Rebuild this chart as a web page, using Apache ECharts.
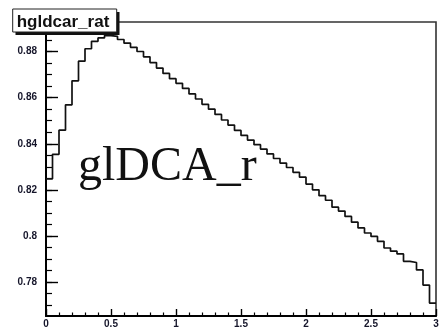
<!DOCTYPE html>
<html>
<head>
<meta charset="utf-8">
<script src="https://cdn.jsdelivr.net/npm/echarts@6/dist/echarts.min.js"></script>
<style>
  html, body { margin: 0; padding: 0; background: #fff; }
  #chart { width: 442px; height: 329px; }
</style>
</head>
<body>
<div id="chart"></div>
<script>
// Histogram binning: 60 bins of width 0.05 over [0, 3]
const xMin = 0;
const xMax = 3;
const binWidth = 0.05;

// Bin contents of hgldcar_rat
const binValues = [
  0.8248, 0.8354, 0.8459, 0.8569, 0.8673, 0.8758, 0.8812, 0.8844, 0.8859, 0.8869,
  0.8866, 0.8852, 0.8836, 0.8818, 0.8800, 0.8777, 0.8752, 0.8728, 0.8705, 0.8682,
  0.8662, 0.8640, 0.8616, 0.8594, 0.8571, 0.8550, 0.8527, 0.8503, 0.8481, 0.8458,
  0.8436, 0.8416, 0.8396, 0.8377, 0.8356, 0.8336, 0.8316, 0.8297, 0.8276, 0.8255,
  0.8225, 0.8200, 0.8175, 0.8155, 0.8125, 0.8108, 0.8085, 0.8060, 0.8035, 0.8013,
  0.7998, 0.7977, 0.7948, 0.7934, 0.7922, 0.7890, 0.7885, 0.7853, 0.7787, 0.7709
];

// Axis ranges and tick values
const yMin = 0.7653;
const yMax = 0.8928;
const yMajorTicks = [0.78, 0.80, 0.82, 0.84, 0.86, 0.88];
const yMinorTicks = [0.765, 0.77, 0.775, 0.78, 0.785, 0.79, 0.795, 0.80, 0.805, 0.81, 0.815,
  0.82, 0.825, 0.83, 0.835, 0.84, 0.845, 0.85, 0.855, 0.86, 0.865, 0.87, 0.875,
  0.88, 0.885, 0.89];
const xTickStep = 0.5;

const histTitle = 'hgldcar_rat';
const padText = 'glDCA_r';

// Step outline: each bin contributes its low and high edge at its content
const outline = [];
binValues.forEach((v, i) => {
  const lo = +(xMin + i * binWidth).toFixed(4);
  const hi = +(xMin + (i + 1) * binWidth).toFixed(4);
  outline.push([lo, v], [hi, v]);
});

const labelStyle = {
  color: '#15152a',
  fontFamily: 'Liberation Sans, Arial, sans-serif',
  fontWeight: 'bold',
  fontSize: 10
};

const chart = echarts.init(document.getElementById('chart'), null, { renderer: 'canvas' });
chart.setOption({
  animation: false,
  backgroundColor: '#fff',
  grid: {
    left: 46, right: 6, top: 22, bottom: 11,
    show: true, borderColor: '#333', borderWidth: 1.6, backgroundColor: 'transparent'
  },
  xAxis: {
    type: 'value',
    min: xMin, max: xMax, interval: xTickStep,
    axisLine: { show: true, onZero: false, lineStyle: { color: '#000', width: 2 } },
    axisTick: { show: true, inside: true, length: 7, lineStyle: { color: '#000', width: 1.4 } },
    minorTick: { show: true, splitNumber: 5, length: 3.5, lineStyle: { color: '#000', width: 1.2 } },
    axisLabel: Object.assign({ margin: 3, showMaxLabel: true, showMinLabel: true, hideOverlap: false }, labelStyle),
    splitLine: { show: false }
  },
  yAxis: [
    {
      type: 'value',
      min: yMin, max: yMax,
      axisLine: { show: true, onZero: false, lineStyle: { color: '#000', width: 2 } },
      axisTick: { show: true, inside: true, length: 12, customValues: yMajorTicks, lineStyle: { color: '#000', width: 1.4 } },
      axisLabel: Object.assign({ margin: 9, customValues: yMajorTicks,
        formatter: v => String(+v.toFixed(2)) }, labelStyle),
      splitLine: { show: false }
    },
    {
      type: 'value',
      position: 'left',
      min: yMin, max: yMax,
      axisLine: { show: false },
      axisTick: { show: true, inside: true, length: 6, customValues: yMinorTicks, lineStyle: { color: '#000', width: 1.2 } },
      axisLabel: { show: false },
      splitLine: { show: false }
    }
  ],
  series: [{
    type: 'line',
    data: outline,
    yAxisIndex: 0,
    showSymbol: false,
    symbol: 'none',
    clip: true,
    lineStyle: { color: '#111', width: 1.7 },
    z: 3
  }],
  graphic: [
    // title pave with drop shadow
    { type: 'rect', shape: { x: 15.5, y: 12, width: 104, height: 23 }, style: { fill: '#111' }, z: 100 },
    { type: 'rect', shape: { x: 12.7, y: 9, width: 104, height: 23 }, style: { fill: '#fff', stroke: '#222', lineWidth: 1 }, z: 101 },
    {
      type: 'text', x: 63, y: 22, z: 102,
      style: {
        text: histTitle, fill: '#111', align: 'center', verticalAlign: 'middle',
        font: 'bold 17px "Liberation Sans", Arial, sans-serif'
      }
    },
    {
      type: 'text', x: 78, y: 167, z: 102,
      style: {
        text: padText, fill: '#111', align: 'left', verticalAlign: 'middle',
        font: '48px "Liberation Serif", "Times New Roman", serif'
      }
    }
  ]
});
</script>
</body>
</html>
